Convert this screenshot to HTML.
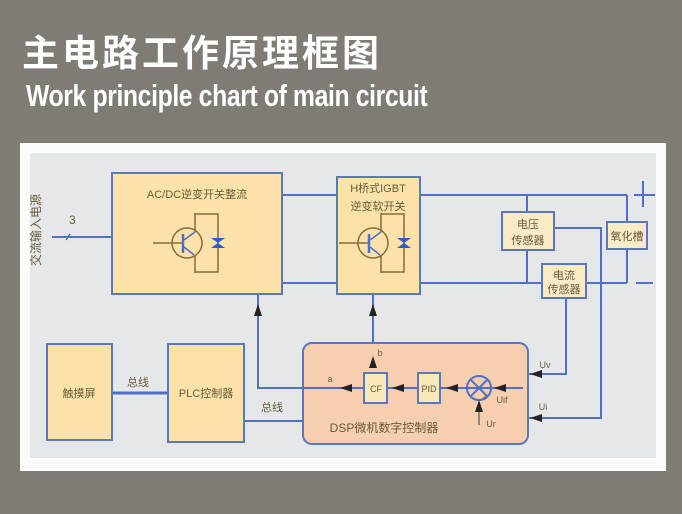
<!DOCTYPE html>
<html><head><meta charset="utf-8"><style>
html,body{margin:0;padding:0;background:#7f7b75;}
body{width:682px;height:514px;overflow:hidden;position:relative;}
.t1{position:absolute;left:22px;top:28px;color:#fff;font:bold 37px "Noto Sans CJK SC",sans-serif;letter-spacing:3px;line-height:44px;}
.t2{position:absolute;left:26px;top:79px;color:#fff;font:bold 31px "Liberation Sans",sans-serif;line-height:34px;transform:scaleX(0.8);transform-origin:0 0;white-space:nowrap;letter-spacing:-0.5px;}
svg{position:absolute;left:0;top:0;}
text{font-family:"Liberation Sans","Noto Sans CJK SC",sans-serif;fill:#6a5a3a;}
</style></head><body>
<div class="t1">主电路工作原理框图</div>
<div class="t2">Work principle chart of main circuit</div>
<svg width="682" height="514" viewBox="0 0 682 514">
<rect x="20" y="143" width="646" height="328" fill="#fbfbfa"/>
<rect x="30" y="153" width="626" height="305" fill="#e5e7e8"/>
<g stroke="#4f6fc8" stroke-width="2" fill="none">
<line x1="52" y1="237" x2="112" y2="237"/>
<line x1="282" y1="195" x2="337" y2="195"/>
<line x1="282" y1="283" x2="337" y2="283"/>
<line x1="420" y1="195" x2="627" y2="195"/>
<line x1="420" y1="283" x2="627" y2="283"/>
<line x1="527" y1="195" x2="527" y2="283"/>
<line x1="627" y1="195" x2="627" y2="283"/>
<polyline points="554,228 601,228 601,418 528,418"/>
<polyline points="566,298 566,374 528,374"/>
<polyline points="303,388 258,388 258,294"/>
<line x1="373" y1="294" x2="373" y2="373"/>
<line x1="303" y1="388" x2="523" y2="388"/>
<line x1="244" y1="421" x2="303" y2="421"/>
<line x1="112" y1="393" x2="168" y2="393" stroke-width="3"/>
<line x1="643" y1="181" x2="643" y2="207"/>
<line x1="634" y1="195" x2="655" y2="195"/>
<line x1="636" y1="283" x2="653" y2="283"/>
</g>
<line x1="66" y1="240" x2="70" y2="234" stroke="#4f6fc8" stroke-width="1.5"/>
<text x="69" y="224" font-size="12">3</text>
<text transform="translate(40,230) rotate(-90)" x="0" y="0" font-size="12" text-anchor="middle" fill="#8a7a5a">交流输入电源</text>
<g stroke="#5a77c0" stroke-width="2">
<rect x="112" y="173" width="170" height="121" fill="#fbe2a8"/>
<rect x="337" y="177" width="83" height="117" fill="#fbe2a8"/>
<rect x="502" y="212" width="52" height="38" fill="#f8ebc6"/>
<rect x="542" y="264" width="44" height="34" fill="#f8ebc6"/>
<rect x="607" y="222" width="40" height="27" fill="#f8ebc6"/>
<rect x="47" y="344" width="65" height="96" fill="#fbe2a8"/>
<rect x="168" y="344" width="76" height="98" fill="#fbe2a8"/>
<rect x="303" y="343" width="225" height="101" rx="9" fill="#f6cfae"/>
<rect x="364" y="373" width="23" height="30" fill="#f9e8b8"/>
<rect x="418" y="373" width="22" height="30" fill="#f9e8b8"/>
</g>
<line x1="303" y1="388" x2="364" y2="388" stroke="#4f6fc8" stroke-width="2"/>
<line x1="387" y1="388" x2="418" y2="388" stroke="#4f6fc8" stroke-width="2"/>
<line x1="440" y1="388" x2="523" y2="388" stroke="#4f6fc8" stroke-width="2"/>
<g id="tr">
<circle cx="187" cy="243" r="15" fill="none" stroke="#8a6a3a" stroke-width="1.5"/>
<line x1="153" y1="243" x2="182" y2="243" stroke="#8a6a3a" stroke-width="1.5"/>
<line x1="183" y1="234" x2="183" y2="253" stroke="#4f6fc8" stroke-width="2.5"/>
<line x1="184" y1="240" x2="195" y2="232" stroke="#4f6fc8" stroke-width="1.5"/>
<line x1="184" y1="247" x2="194" y2="255" stroke="#4f6fc8" stroke-width="1.5"/>
<polyline points="195,213 195,232" stroke="#8a6a3a" stroke-width="1.5" fill="none"/>
<polyline points="195,255 195,273" stroke="#8a6a3a" stroke-width="1.5" fill="none"/>
<polyline points="195,214 218,214 218,272 195,272" stroke="#8a6a3a" stroke-width="1.5" fill="none"/>
<polygon points="211,238 225,238 218,243 225,248 211,248 218,243" fill="#2f5cc8"/>
</g>
<use href="#tr" transform="translate(186,0)"/>
<circle cx="479" cy="388" r="12" fill="none" stroke="#4f6fc8" stroke-width="2"/>
<line x1="471" y1="380" x2="487" y2="396" stroke="#4f6fc8" stroke-width="2"/>
<line x1="487" y1="380" x2="471" y2="396" stroke="#4f6fc8" stroke-width="2"/>
<line x1="479" y1="425" x2="479" y2="402" stroke="#555" stroke-width="1.2"/>
<g fill="#222">
<polygon points="258,304 254,316 262,316"/>
<polygon points="373,304 369,316 377,316"/>
<polygon points="373,356 369,368 377,368"/>
<polygon points="479,400 475,412 483,412"/>
<polygon points="340,388 352,384 352,392"/>
<polygon points="392,388 404,384 404,392"/>
<polygon points="446,388 458,384 458,392"/>
<polygon points="494,388 506,384 506,392"/>
<polygon points="530,374 542,370 542,378"/>
<polygon points="530,418 542,414 542,422"/>
</g>
<g font-size="11" text-anchor="middle">
<text x="197" y="198">AC/DC逆变开关整流</text>
<text x="378" y="192">H桥式IGBT</text>
<text x="378" y="210">逆变软开关</text>
<text x="528" y="228">电压</text>
<text x="528" y="244">传感器</text>
<text x="564" y="279">电流</text>
<text x="564" y="293">传感器</text>
<text x="627" y="240">氧化槽</text>
<text x="79" y="397">触摸屏</text>
<text x="206" y="397">PLC控制器</text>
<text x="138" y="386">总线</text>
<text x="272" y="411">总线</text>
<text x="376" y="392" font-size="9">CF</text>
<text x="429" y="392" font-size="9">PID</text>
<text x="384" y="432" font-size="12">DSP微机数字控制器</text>
<text x="380" y="356" font-size="9">b</text>
<text x="330" y="382" font-size="9">a</text>
<text x="545" y="368" font-size="9">Uv</text>
<text x="543" y="410" font-size="9">Ui</text>
<text x="502" y="403" font-size="9">Uif</text>
<text x="491" y="427" font-size="9">Ur</text>
<text x="485" y="401" font-size="9">+</text>
</g>
</svg>
</body></html>
